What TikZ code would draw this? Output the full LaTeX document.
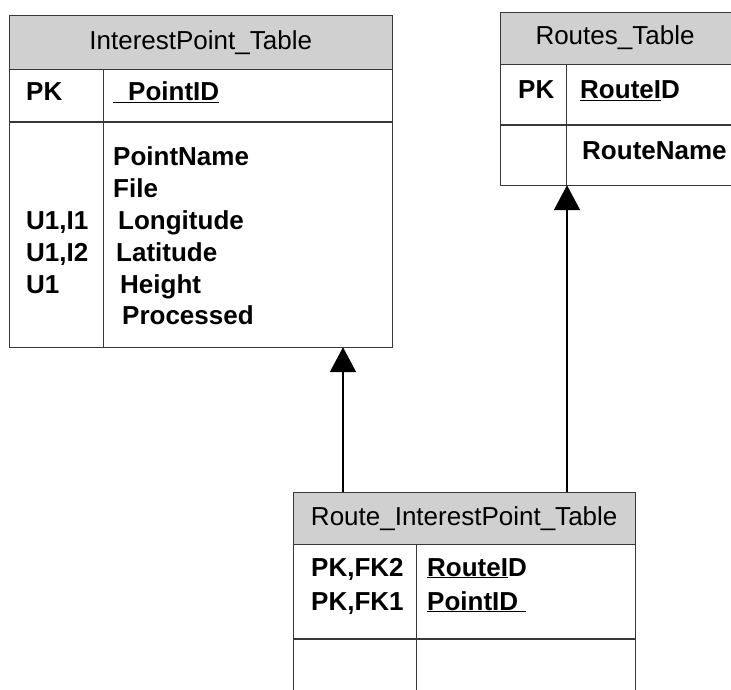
\documentclass[tikz,border=0pt]{standalone}
\usepackage{fontspec}
\setmainfont{Liberation Sans}
\usepackage{xcolor}
\definecolor{Head Gray}{HTML}{D0D0D0}
\definecolor{Rule Gray}{HTML}{383838}
\colorlet{cHead}{Head Gray}
\colorlet{cRule}{Rule Gray}
\usetikzlibrary{calc, positioning, arrows.meta}
\tikzset{
	line width = 1.6pt,
	font = \fontsize{26}{31.5}\selectfont,
	tablehead/.style={
		draw=cRule,
		fill=cHead,
		rectangle,
		anchor=north west,
		inner sep=0pt
	},
	tablerow/.style={
		draw=cRule,
		fill=white,
		rectangle,
		anchor=north west,
		inner sep=0pt
	},
	field/.style={
		anchor=base west,
		inner sep=0pt,
		font=\fontsize{26}{31.5}\selectfont\bfseries
	},
	link/.style={
		-{Triangle[length=25pt, width=26pt]},
		line width=2pt
	}
}

\begin{document}
\begin{tikzpicture}[x=1pt, y=-1pt]
\clip (0,0) rectangle (731,690);
\fill[white] (0,0) rectangle (731,690);

% ---
% InterestPoint table
% ---
\node[tablehead, minimum width=383pt, minimum height=54pt] (ip-head) at (9,15) {InterestPoint\_Table};
\node[tablerow, minimum width=383pt, minimum height=52pt] (ip-key) at (ip-head.south west) {};
\node[tablerow, minimum width=383pt, minimum height=225pt] (ip-body) at (ip-key.south west) {};
\draw[cRule] ($(ip-key.north west)+(94,0)$) -- ($(ip-body.south west)+(94,0)$);

\node[field] (ip-pk) at (26,101) {PK};
\node[field] (ip-id) at (113,101) {\underline{\hspace{15pt}PointID}};
\node[field] (ip-f1) at (113,166) {PointName};
\node[field] (ip-f2) at (113,197) {File};
\node[field] (ip-f3) at (118,229) {Longitude};
\node[field] (ip-f4) at (116,261) {Latitude};
\node[field] (ip-f5) at (120,293) {Height};
\node[field] (ip-f6) at (122,324) {Processed};
\node[field] (ip-k3) at (26,229) {U1,I1};
\node[field] (ip-k4) at (26,261) {U1,I2};
\node[field] (ip-k5) at (26,293) {U1};

% ---
% Routes table
% ---
\node[tablehead, minimum width=280pt, minimum height=52pt] (rt-head) at (500,12) {};
\node[anchor=center] (rt-title) at (615,38) {Routes\_Table};
\node[tablerow, minimum width=280pt, minimum height=60pt] (rt-key) at (rt-head.south west) {};
\node[tablerow, minimum width=280pt, minimum height=60pt] (rt-body) at (rt-key.south west) {};
\draw[cRule] ($(rt-key.north west)+(66,0)$) -- ($(rt-body.south west)+(66,0)$);

\node[field] (rt-pk) at (518,99) {PK};
\node[field] (rt-id) at (580,99) {\underline{RouteI}D};
\node[field] (rt-f1) at (582,160) {RouteName};

% ---
% Route_InterestPoint table
% ---
\node[tablehead, minimum width=342pt, minimum height=52pt] (rip-head) at (293,492) {Route\_InterestPoint\_Table};
\node[tablerow, minimum width=342pt, minimum height=94pt] (rip-key) at (rip-head.south west) {};
\node[tablerow, minimum width=342pt, minimum height=80pt] (rip-body) at (rip-key.south west) {};
\draw[cRule] ($(rip-key.north west)+(123,0)$) -- ($(rip-body.south west)+(123,0)$);

\node[field] (rip-pk1) at (311,576) {PK,FK2};
\node[field] (rip-pk2) at (311,610) {PK,FK1};
\node[field] (rip-id1) at (427,576) {\underline{RouteI}D};
\node[field] (rip-id2) at (427,610) {\underline{PointID\hspace{8pt}}};

% ---
% References
% ---
\coordinate (ip-foot) at ($(rip-head.north west)+(50,0)$);
\coordinate (rt-foot) at ($(rip-head.north west)+(274,0)$);
\draw[link] (ip-foot) -- (ip-foot |- ip-body.south);
\draw[link] (rt-foot) -- (rt-foot |- rt-body.south);
\end{tikzpicture}
\end{document}
